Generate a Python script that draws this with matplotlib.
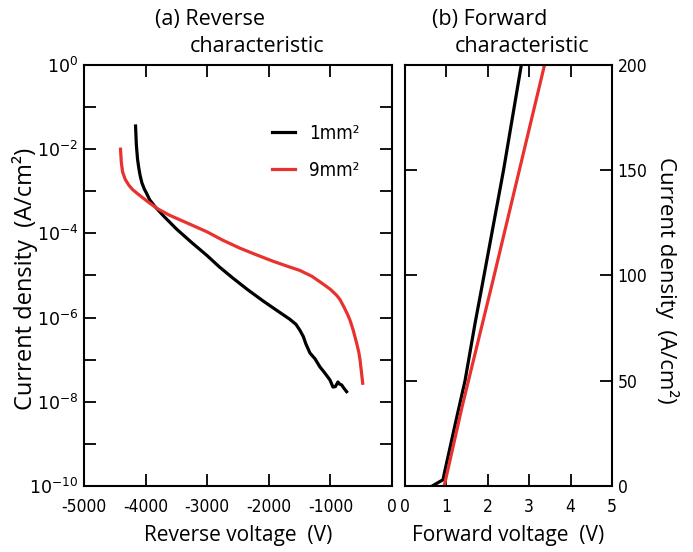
import matplotlib
matplotlib.use('Agg')
import matplotlib.pyplot as plt
import numpy as np

# ---- data ----
rev_v_1mm = [-4163, -4150, -4130, -4110, -4090, -4060, -4020, -3984, -3935, -3850,
             -3700, -3496, -3250, -3008, -2800, -2585, -2350, -2098, -1880, -1659,
             -1560, -1496, -1440, -1400, -1333, -1250, -1171, -1100, -1008, -959,
             -920, -878, -850, -818, -780, -737]
rev_logj_1mm = [-1.45, -1.9, -2.25, -2.45, -2.62, -2.8, -2.95, -3.05, -3.2, -3.36,
                -3.6, -3.9, -4.22, -4.52, -4.8, -5.06, -5.33, -5.6, -5.82, -6.04,
                -6.16, -6.3, -6.45, -6.62, -6.84, -6.98, -7.17, -7.3, -7.48, -7.65,
                -7.64, -7.53, -7.58, -7.6, -7.68, -7.76]
rev_v_9mm = [-4407, -4395, -4374, -4330, -4270, -4211, -4120, -4050, -3935, -3800,
             -3610, -3300, -3008, -2750, -2472, -2200, -1935, -1700, -1496, -1300,
             -1122, -1000, -900, -846, -780, -720, -683, -630, -574, -540, -520,
             -500, -476]
rev_logj_9mm = [-2.0, -2.3, -2.54, -2.72, -2.86, -2.96, -3.07, -3.15, -3.28, -3.42,
                -3.57, -3.77, -3.96, -4.16, -4.35, -4.51, -4.66, -4.78, -4.88, -5.02,
                -5.2, -5.33, -5.47, -5.57, -5.75, -5.93, -6.06, -6.3, -6.61, -6.82,
                -7.0, -7.25, -7.56]

fwd_v_1mm = [0.66, 0.92, 0.95, 1.22, 1.45, 1.69, 1.89, 2.38, 2.81]
fwd_j_1mm = [0, 3, 6, 30, 50, 77, 98, 150, 200]
fwd_v_9mm = [0.947, 1.38, 2.128, 3.37]
fwd_j_9mm = [0, 37.7, 97.9, 200]

rev_xticks = [-5000, -4000, -3000, -2000, -1000, 0]
fwd_xticks = [0, 1, 2, 3, 4, 5]
fwd_yticks = [0, 50, 100, 150, 200]
log_decades = list(range(-10, 1))

main = 'Open Sans'
red = '#e8322f'

fig = plt.figure(figsize=(6.93, 5.52), dpi=100)
ax1 = fig.add_axes([0.1212, 0.1196, 0.4445, 0.7627])
ax2 = fig.add_axes([0.5844, 0.1196, 0.2987, 0.7627])

lw = 2.3
ax1.plot(rev_v_1mm, 10 ** np.array(rev_logj_1mm), color='black', lw=lw,
         label='1mm²', solid_joinstyle='round')
ax1.plot(rev_v_9mm, 10 ** np.array(rev_logj_9mm), color=red, lw=lw,
         label='9mm²', solid_joinstyle='round')
ax1.set_yscale('log')
ax1.set_xlim(-5000, 0)
ax1.set_ylim(1e-10, 1)
ax1.set_xticks(rev_xticks)
ax1.set_xticklabels([str(t) for t in rev_xticks])
ax1.set_yticks([10.0 ** d for d in log_decades])
ax1.set_yticklabels([(r'$10^{%d}$' % d) if d % 2 == 0 else '' for d in log_decades])
ax1.yaxis.set_minor_locator(matplotlib.ticker.NullLocator())

ax2.plot(fwd_v_1mm, fwd_j_1mm, color='black', lw=lw, solid_joinstyle='round')
ax2.plot(fwd_v_9mm, fwd_j_9mm, color=red, lw=lw)
ax2.set_xlim(0, 5)
ax2.set_ylim(0, 200)
ax2.set_xticks(fwd_xticks)
ax2.set_yticks(fwd_yticks)
ax2.yaxis.tick_right()

for ax in (ax1, ax2):
    for s in ax.spines.values():
        s.set_linewidth(1.5)
    ax.tick_params(which='both', direction='in', length=8.5, width=1.3,
                   top=True, bottom=True, left=True, right=True,
                   labelsize=12.5, pad=4)
    ax.tick_params(axis='x', pad=9)
    for lab in ax.get_xticklabels() + ax.get_yticklabels():
        lab.set_fontfamily('DejaVu Sans')
        lab.set_fontstretch('condensed')
ax2.tick_params(labelleft=False, labelright=True)

ax1.set_xlabel('Reverse voltage  (V)', fontfamily=main, fontsize=15, labelpad=6)
ax2.set_xlabel('Forward voltage  (V)', fontfamily=main, fontsize=15, labelpad=6)

fig.text(25 / 693, 1 - 279 / 552, 'Current density  (A/cm²)', fontfamily=main,
         fontsize=17, rotation=90, ha='center', va='center')
fig.text(667 / 693, 1 - 280 / 552, 'Current density  (A/cm²)', fontfamily=main,
         fontsize=16, rotation=270, ha='center', va='center')

leg = ax1.legend(loc='upper right', bbox_to_anchor=(0.95, 0.9), frameon=False,
                 handlelength=1.25, handletextpad=0.75, labelspacing=0.95,
                 prop={'family': 'DejaVu Sans', 'stretch': 'condensed', 'size': 13.5})

def ftxt(x, y, s):
    fig.text(x / 693, 1 - y / 552, s, fontfamily=main, fontsize=15.5,
             ha='left', va='center')

ftxt(155, 20, '(a) Reverse')
ftxt(190, 47, 'characteristic')
ftxt(432, 20, '(b) Forward')
ftxt(455, 47, 'characteristic')

fig.savefig('out.png', dpi=100)
